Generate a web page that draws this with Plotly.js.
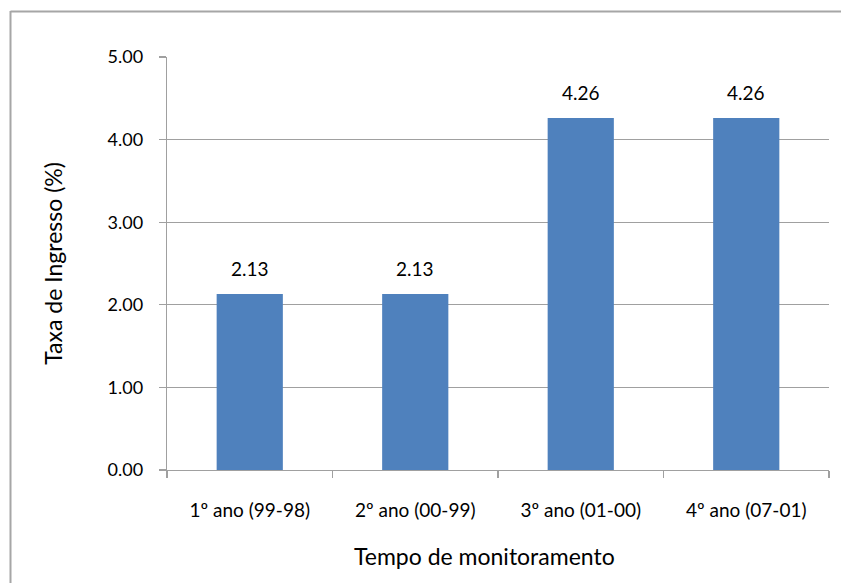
<!DOCTYPE html>
<html>
<head>
<meta charset="utf-8">
<script src="https://cdn.plot.ly/plotly-3.0.1.min.js"></script>
<style>
  html, body { margin: 0; padding: 0; background: #ffffff; }
  #chart { width: 841px; height: 583px; }
</style>
</head>
<body>
<div id="chart"></div>
<script>
// Taxa de ingresso por período de monitoramento
const periodos = ['1º ano (99-98)', '2º ano (00-99)', '3º ano (01-00)', '4º ano (07-01)'];
const taxas = [2.13, 2.13, 4.26, 4.26];
const yTicks = [0, 1, 2, 3, 4, 5];
const yTickText = ['0.00', '1.00', '2.00', '3.00', '4.00', '5.00'];

const FONT = 'Lato, "Open Sans", sans-serif';
const GRID = '#a0a0a0';

const W = 841, H = 583;
const M = { l: 167, r: 12, t: 57, b: 113 };
const pw = W - M.l - M.r, ph = H - M.t - M.b;
// pixel -> paper helpers for the frame and the x-axis title
const px = x => (x - M.l) / pw;
const py = y => (H - M.b - y) / ph;

const trace = {
  type: 'bar',
  x: periodos,
  y: taxas,
  width: 0.4,
  marker: { color: '#4f81bd', line: { width: 0 } },
  hoverinfo: 'x+y'
};

const labels = periodos.map((p, i) => ({
  x: p, y: taxas[i], xref: 'x', yref: 'y',
  text: taxas[i].toFixed(2),
  showarrow: false, yanchor: 'bottom', yshift: 12,
  font: { family: FONT, size: 19, color: '#000000' }
}));

// x-axis title, set slightly left of the plot centre
labels.push({
  xref: 'paper', yref: 'paper', x: px(484), y: py(556),
  xanchor: 'center', yanchor: 'middle', showarrow: false,
  text: 'Tempo de monitoramento',
  font: { family: FONT, size: 23, color: '#000000' }
});

const layout = {
  width: W, height: H,
  margin: M,
  paper_bgcolor: '#ffffff',
  plot_bgcolor: '#ffffff',
  showlegend: false,
  bargap: 0.6,
  xaxis: {
    type: 'category',
    tickson: 'boundaries',
    ticks: 'outside', ticklen: 7, tickcolor: GRID, tickwidth: 1.3,
    showline: true, linecolor: GRID, linewidth: 1.3,
    showgrid: false,
    tickfont: { family: FONT, size: 19, color: '#000000' },
    ticklabelstandoff: 23,
    automargin: false
  },
  yaxis: {
    range: [0, 5],
    tickvals: yTicks, ticktext: yTickText,
    ticks: 'outside', ticklen: 7, tickcolor: GRID, tickwidth: 1.3,
    showline: true, linecolor: GRID, linewidth: 1.3,
    showgrid: true, gridcolor: GRID, gridwidth: 1.3,
    zeroline: false,
    tickfont: { family: FONT, size: 18, color: '#000000' },
    ticklabelstandoff: 12,
    title: { text: 'Taxa de Ingresso (%)', font: { family: FONT, size: 23, color: '#000000' }, standoff: 38 },
    automargin: false
  },
  annotations: labels,
  shapes: [
    { type: 'line', xref: 'paper', yref: 'paper', x0: px(10.5), x1: px(10.5), y0: py(11), y1: py(620),
      line: { color: '#a6a6a6', width: 2 } },
    { type: 'line', xref: 'paper', yref: 'paper', x0: px(10.5), x1: px(900), y0: py(11.5), y1: py(11.5),
      line: { color: '#a6a6a6', width: 2 } }
  ]
};

Plotly.newPlot('chart', [trace], layout, { displayModeBar: false, staticPlot: true });
</script>
</body>
</html>
